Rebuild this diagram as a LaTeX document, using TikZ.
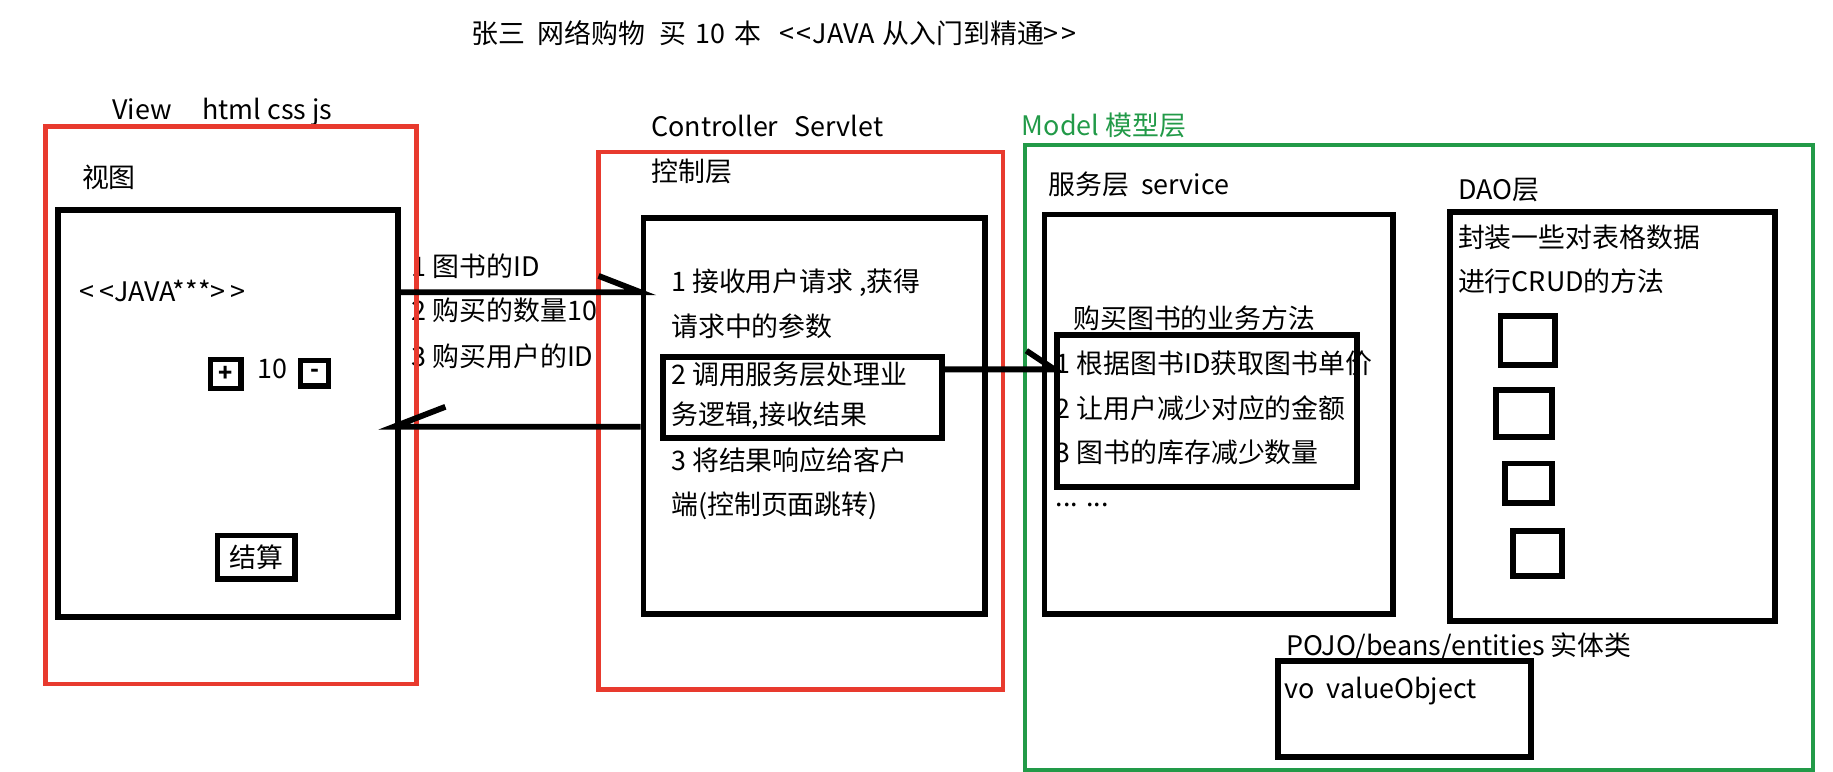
\documentclass[tikz,border=0pt]{standalone}
\usepackage{fontspec}
\setmainfont{Noto Sans CJK SC}
\definecolor{rd}{RGB}{232,58,46}
\definecolor{gn}{RGB}{34,154,72}
\tikzset{
  txt/.style={anchor=west, inner sep=0pt, font=\fontsize{23}{27}\selectfont},
  box/.style n args={2}{anchor=north west, inner sep=0pt, minimum width=#1, minimum height=#2},
  blk/.style={draw=black, line width=5pt},
  thin/.style={draw=black, line width=4.5pt},
  redbox/.style={draw=rd, line width=4pt},
  grnbox/.style={draw=gn, line width=3.5pt},
  conn/.style={draw=black, line width=5pt}
}
\begin{document}
\begin{tikzpicture}[x=1pt,y=-1pt]
\useasboundingbox (0,0) rectangle (1568,660);
% texts
\node[txt] (title) at (403,28) {张三\hspace{11pt}网络购物\hspace{12pt}买\hspace{8pt}10\hspace{8pt}本\hspace{15pt}<\kern2pt<\kern1pt JAVA\hspace{7pt}从入门到精通>\kern2pt>};
\node[txt] (viewlbl) at (96,96) {View\hspace{26pt}html css js};
\node[txt] (shitu) at (70,152) {视图};
\node[txt] (java) at (68,249) {<\,<JAVA***>\,>};
\node[txt] (ten) at (220,316) {10};
\node[txt] (a1) at (352,228) {1 图书的ID};
\node[txt] (a2) at (352,265) {2 购买的数量10};
\node[txt] (a3) at (352,305) {3 购买用户的ID};
\node[txt] (ctrllbl) at (557,108) {Controller\hspace{14pt}Servlet};
\node[txt] (kzc) at (557,147) {控制层};
\node[txt] (c1) at (574,242) {1 接收用户请求 ,获得};
\node[txt] (c2) at (574,279) {请求中的参数};
\node[txt] (c3) at (574,320) {2 调用服务层处理业};
\node[txt] (c4) at (574,356) {务逻辑,接收结果};
\node[txt] (c5) at (574,394) {3 将结果响应给客户};
\node[txt] (c6) at (574,433) {端(控制页面跳转)};
\node[txt, text=gn] (modellbl) at (874,107) {Model 模型层};
\node[txt] (svclbl) at (897,158) {服务层\hspace{10pt}service};
\node[txt] (s0) at (918,272) {购买图书的业务方法};
\node[txt] (s1) at (903,311) {1 根据图书ID获取图书单价};
\node[txt] (s2) at (903,349) {2 让用户减少对应的金额};
\node[txt] (s3) at (903,387) {3 图书的库存减少数量};
\node[txt] (s4) at (903,432) {... ...};
\node[txt] (daolbl) at (1247,163) {DAO层};
\node[txt] (d1) at (1247,203) {封装一些对表格数据};
\node[txt] (d2) at (1247,241) {进行CRUD的方法};
\node[txt] (pojo) at (1100,553) {POJO/beans/entities 实体类};
\node[txt] (vo) at (1099,591) {vo\hspace{10pt}valueObject};
% boxes
\node[box={317pt}{477pt}, redbox] (R1) at (37,106) {};
\node[box={291pt}{348pt}, blk] (V) at (47,177) {};
\node[box={26pt}{25pt}, thin] (plus) at (178,305) {};
\node[font=\fontsize{20}{22}\selectfont\bfseries, inner sep=0pt] (plust) at (plus.center) {+};
\node[box={24pt}{22pt}, thin] (minus) at (255,306) {};
\node[font=\fontsize{20}{22}\selectfont\bfseries, inner sep=0pt] (minust) at (minus.center) {-};
\node[box={66pt}{37pt}, thin] (js) at (184,456) {};
\node[txt, anchor=center] (jst) at (js.center) {结算};
\node[box={346pt}{460pt}, redbox] (R2) at (510,128) {};
\node[box={292pt}{339pt}, blk] (C) at (548,184) {};
\node[box={238pt}{69pt}, blk] (CI) at (565,303) {};
\node[box={674pt}{535pt}, grnbox] (G) at (875,122) {};
\node[box={298pt}{342pt}, blk] (S) at (891,181) {};
\node[box={256pt}{130pt}, blk] (SI) at (902,284) {};
\node[box={278pt}{350pt}, blk] (D) at (1238,179) {};
\node[box={47pt}{42pt}, blk] (q1) at (1281,268) {};
\node[box={48pt}{40pt}, blk] (q2) at (1277,331) {};
\node[box={40pt}{34pt}, blk] (q3) at (1285,394) {};
\node[box={42pt}{38pt}, blk] (q4) at (1292,452) {};
\node[box={216pt}{82pt}, blk] (VO) at (1091,563) {};
% connectors
\draw[conn] (V.east |- 0,250) -- (C.west |- 0,250) coordinate (h1) -- ++(-36,-14);
\draw[conn] (C.west |- 0,365) -- (V.east |- 0,365) -- ++(-6,0) coordinate (h2) -- ++(44,-17);
\draw[conn] (CI.east |- 0,316) -- (SI.west |- 0,316) coordinate (h3) -- ++(-24,-16);
\end{tikzpicture}
\end{document}
